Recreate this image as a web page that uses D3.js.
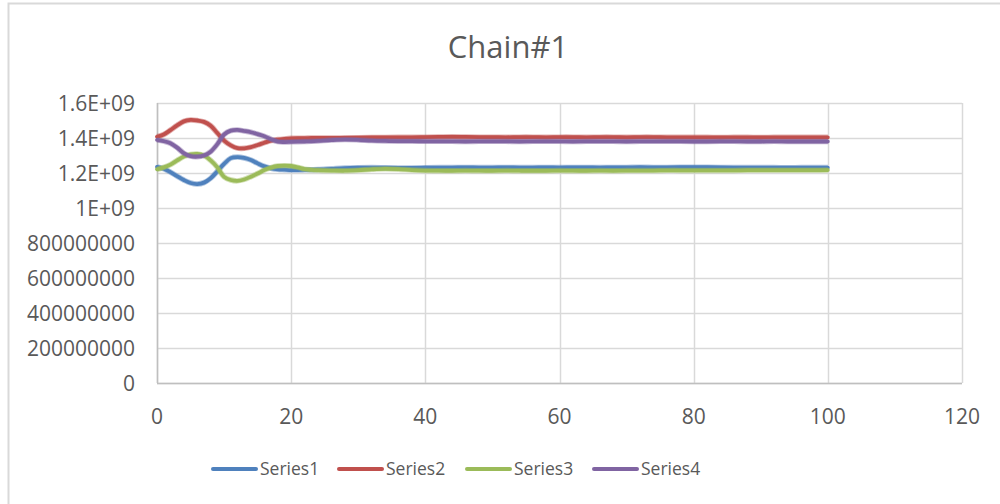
<!DOCTYPE html>
<html>
<head>
<meta charset="utf-8">
<script src="https://cdn.jsdelivr.net/npm/d3@7"></script>
<style>
  html, body { margin: 0; padding: 0; background: #ffffff; }
  svg { display: block; }
</style>
</head>
<body>
<svg id="chart" width="1000" height="504"></svg>
<script>
// Iteration index (x) shared by all chains
const iterations = [
  0, 1, 2, 3, 4, 5, 6, 7, 8, 9, 10, 11, 12, 13, 14, 15, 16, 17, 18, 19, 20, 21, 22, 23, 24,
  26, 28, 30, 32, 34, 36, 38, 40, 42, 44, 46, 48, 50, 52, 54, 56, 58, 60, 62, 64, 66, 68, 70,
  72, 74, 76, 78, 80, 82, 84, 86, 88, 90, 92, 94, 96, 98, 100
];

// Series values, in millions
const series1 = [
  1235, 1224, 1205, 1182, 1160, 1143, 1137, 1145, 1170, 1210, 1252, 1285, 1291, 1286, 1274, 1255, 1238, 1227, 1221, 1219, 1217, 1217, 1218, 1219, 1220,
  1224, 1228, 1230, 1231, 1230, 1229, 1229, 1230, 1231, 1231, 1232, 1231, 1231, 1232, 1231, 1231, 1232, 1231, 1232, 1232, 1231, 1232, 1232,
  1233, 1232, 1232, 1233, 1233, 1233, 1232, 1231, 1231, 1231, 1231, 1230, 1231, 1231, 1231
];
const series2 = [
  1407, 1420, 1445, 1472, 1495, 1503, 1500, 1492, 1470, 1428, 1385, 1358, 1342, 1341, 1348, 1360, 1373, 1385, 1391, 1395, 1398, 1399, 1399, 1400, 1400,
  1400, 1401, 1402, 1403, 1403, 1404, 1404, 1405, 1406, 1407, 1406, 1405, 1405, 1404, 1405, 1405, 1404, 1405, 1405, 1404, 1405, 1405, 1404,
  1405, 1405, 1404, 1404, 1404, 1404, 1403, 1404, 1404, 1403, 1404, 1404, 1404, 1404, 1404
];
const series3 = [
  1221, 1232, 1248, 1272, 1294, 1306, 1309, 1300, 1272, 1232, 1178, 1160, 1155, 1163, 1179, 1197, 1217, 1231, 1240, 1242, 1240, 1232, 1222, 1218, 1216,
  1214, 1213, 1216, 1221, 1224, 1222, 1217, 1214, 1213, 1213, 1214, 1213, 1213, 1214, 1213, 1213, 1213, 1214, 1213, 1213, 1214, 1213, 1214,
  1214, 1214, 1215, 1215, 1215, 1215, 1215, 1215, 1216, 1216, 1216, 1216, 1216, 1216, 1217
];
const series4 = [
  1389, 1382, 1370, 1345, 1313, 1296, 1293, 1300, 1322, 1365, 1420, 1442, 1446, 1440, 1433, 1422, 1410, 1393, 1379, 1377, 1378, 1379, 1380, 1381, 1383,
  1388, 1391, 1389, 1385, 1383, 1382, 1382, 1381, 1381, 1381, 1380, 1381, 1381, 1381, 1380, 1381, 1381, 1381, 1380, 1381, 1381, 1381, 1380,
  1381, 1381, 1381, 1381, 1380, 1380, 1381, 1381, 1380, 1380, 1381, 1380, 1380, 1380, 1380
];
const valueUnit = 1e6;

const seriesNames = ["Series1", "Series2", "Series3", "Series4"];
const seriesColors = ["#4F81BD", "#C0504D", "#9BBB59", "#8064A2"];

// Axis ticks
const xTicks = [0, 20, 40, 60, 80, 100, 120];
const yTicks = [0, 2e8, 4e8, 6e8, 8e8, 1e9, 1.2e9, 1.4e9, 1.6e9];
const yTickLabels = ["0", "200000000", "400000000", "600000000", "800000000", "1E+09", "1.2E+09", "1.4E+09", "1.6E+09"];

const title = "Chain#1";

const allSeries = [series1, series2, series3, series4];

const svg = d3.select("#chart");
const font = "'Open Sans', Lato, sans-serif";
const textColor = "#595959";
const gridColor = "#d9d9d9";

// Outer chart frame
svg.append("rect")
  .attr("x", 8.5).attr("y", 3.5)
  .attr("width", 1000).attr("height", 520)
  .attr("fill", "#ffffff")
  .attr("stroke", gridColor)
  .attr("stroke-width", 2);

const plot = { left: 157, right: 962, top: 103, bottom: 383 };

const x = d3.scaleLinear().domain([0, 120]).range([plot.left, plot.right]);
const y = d3.scaleLinear().domain([0, 1.6e9]).range([plot.bottom, plot.top]);

// Gridlines
svg.append("g")
  .selectAll("line")
  .data(yTicks)
  .join("line")
  .attr("x1", plot.left).attr("x2", plot.right)
  .attr("y1", d => Math.round(y(d)) + 0.5).attr("y2", d => Math.round(y(d)) + 0.5)
  .attr("stroke", gridColor).attr("stroke-width", 1.5);

svg.append("g")
  .selectAll("line")
  .data(xTicks)
  .join("line")
  .attr("y1", plot.top).attr("y2", plot.bottom)
  .attr("x1", d => Math.round(x(d)) + 0.5).attr("x2", d => Math.round(x(d)) + 0.5)
  .attr("stroke", gridColor).attr("stroke-width", 1.5);

// Axis lines
svg.append("line")
  .attr("x1", plot.left).attr("x2", plot.right)
  .attr("y1", plot.bottom + 0.5).attr("y2", plot.bottom + 0.5)
  .attr("stroke", "#bfbfbf").attr("stroke-width", 1.5);
svg.append("line")
  .attr("x1", plot.left + 0.5).attr("x2", plot.left + 0.5)
  .attr("y1", plot.top).attr("y2", plot.bottom)
  .attr("stroke", "#bfbfbf").attr("stroke-width", 1.5);

// Y tick labels
svg.append("g")
  .selectAll("text")
  .data(yTicks)
  .join("text")
  .attr("x", 135)
  .attr("y", d => y(d))
  .attr("dy", "0.36em")
  .attr("text-anchor", "end")
  .attr("font-family", font)
  .attr("font-size", 21)
  .attr("fill", textColor)
  .text((d, i) => yTickLabels[i]);

// X tick labels
svg.append("g")
  .selectAll("text")
  .data(xTicks)
  .join("text")
  .attr("x", d => x(d))
  .attr("y", 424)
  .attr("text-anchor", "middle")
  .attr("font-family", font)
  .attr("font-size", 21)
  .attr("fill", textColor)
  .text(d => d);

// Series lines: a soft halo under a solid core gives the sampled traces their width
const line = d3.line()
  .x((d, i) => x(iterations[i]))
  .y(d => y(d * valueUnit))
  .curve(d3.curveCatmullRom.alpha(0.5));

const traces = svg.append("g")
  .selectAll("g")
  .data(allSeries)
  .join("g");
traces.append("path")
  .attr("d", d => line(d))
  .attr("fill", "none")
  .attr("stroke", (d, i) => seriesColors[i])
  .attr("stroke-opacity", 0.45)
  .attr("stroke-width", 5.5)
  .attr("stroke-linejoin", "round");
traces.append("path")
  .attr("d", d => line(d))
  .attr("fill", "none")
  .attr("stroke", (d, i) => seriesColors[i])
  .attr("stroke-width", 3.8)
  .attr("stroke-linejoin", "round")
  .attr("stroke-linecap", "round");

// Title
svg.append("text")
  .attr("x", 508)
  .attr("y", 58)
  .attr("text-anchor", "middle")
  .attr("font-family", font)
  .attr("font-size", 31)
  .attr("fill", textColor)
  .text(title);

// Legend
const legendX = [213, 339, 467, 594];
const legend = svg.append("g")
  .selectAll("g")
  .data(seriesNames)
  .join("g")
  .attr("transform", (d, i) => `translate(${legendX[i]},469)`);
legend.append("line")
  .attr("x1", 0).attr("x2", 43)
  .attr("y1", 0).attr("y2", 0)
  .attr("stroke", (d, i) => seriesColors[i])
  .attr("stroke-width", 4)
  .attr("stroke-linecap", "round");
legend.append("text")
  .attr("x", 47)
  .attr("y", 0)
  .attr("dy", "0.36em")
  .attr("font-family", font)
  .attr("font-size", 17.5)
  .attr("fill", textColor)
  .text(d => d);
</script>
</body>
</html>
